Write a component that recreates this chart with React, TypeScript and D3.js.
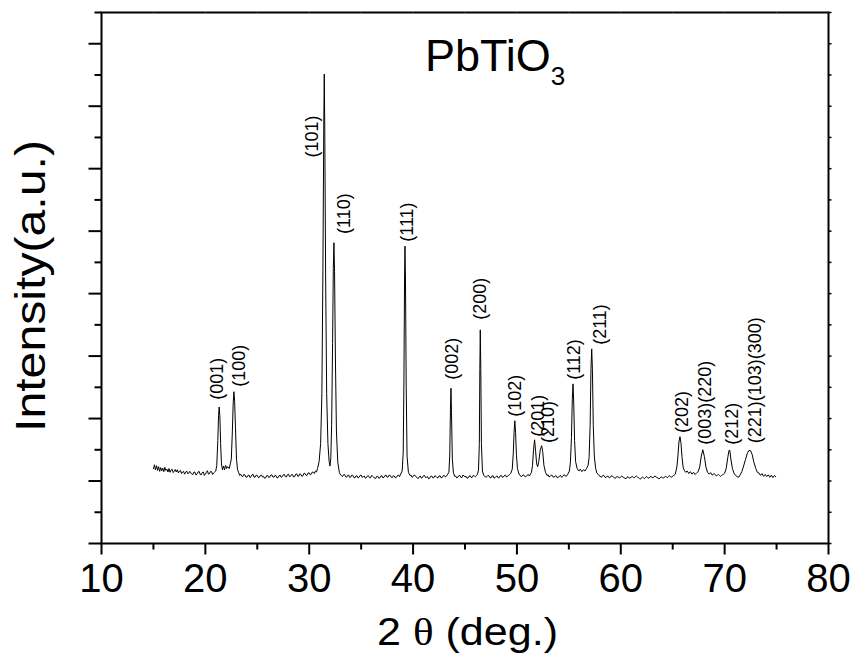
import React from 'react';
import * as d3 from 'd3';

// ---------- data ----------
const xMajorTicks = [10, 20, 30, 40, 50, 60, 70, 80];
const xMinorTicks = [15, 25, 35, 45, 55, 65, 75];
const yDomain = [0, 1700];
const titleMain = 'PbTiO';
const titleSub = '3';
const xTitleA = '2 ';
const xTitleTheta = 'θ';
const xTitleB = ' (deg.)';
const yTitle = 'Intensity(a.u.)';

// diffraction scan: [2θ (deg), intensity (a.u.)]
const scanA: [number, number][] = [
  [15.0, 238], [15.1, 252], [15.2, 236], [15.3, 249], [15.4, 234], [15.5, 246], [15.6, 231], [15.7, 243], [15.8, 233],
  [15.9, 241], [16.0, 230], [16.1, 244], [16.2, 234], [16.3, 238], [16.4, 229], [16.5, 240], [16.6, 228],
  [16.7, 235], [16.8, 238], [16.9, 227], [17.0, 231], [17.1, 237], [17.2, 229], [17.3, 236], [17.4, 226],
  [17.5, 232], [17.6, 234], [17.7, 224], [17.8, 229], [17.9, 231], [18.0, 222], [18.1, 228], [18.2, 232],
  [18.3, 224], [18.4, 225], [18.5, 231], [18.6, 226], [18.7, 222], [18.8, 221], [18.9, 229], [19.0, 228],
  [19.1, 219], [19.2, 223], [19.3, 229], [19.4, 231], [19.5, 221], [19.6, 220], [19.7, 227], [19.8, 229],
  [19.9, 218], [20.0, 222], [20.1, 228], [20.2, 233], [20.3, 222], [20.4, 224], [20.5, 231], [20.6, 230],
  [20.7, 221], [20.8, 226], [20.9, 229], [21.0, 232], [21.1, 250], [21.2, 330], [21.27, 410], [21.33, 437],
  [21.4, 405], [21.47, 320], [21.55, 255], [21.65, 236], [21.75, 248], [21.85, 236], [21.95, 250], [22.05, 240],
  [22.15, 246], [22.3, 240], [22.4, 255], [22.5, 270], [22.6, 360], [22.68, 450], [22.75, 486], [22.82, 455],
  [22.9, 370], [23.0, 270], [23.1, 236], [23.2, 228],
];
const scanB: [number, number][] = [
  [23.3, 218], [23.4, 222], [23.5, 216], [23.6, 214], [23.7, 221], [23.8, 220], [23.9, 213], [24.0, 212],
  [24.1, 218], [24.2, 219], [24.3, 211], [24.4, 214], [24.5, 220], [24.6, 221], [24.7, 212], [24.8, 213],
  [24.9, 219], [25.0, 218], [25.1, 211], [25.2, 212], [25.3, 218], [25.4, 219], [25.5, 213], [25.6, 215],
  [25.7, 209], [25.8, 210], [25.9, 217], [26.0, 218], [26.1, 211], [26.2, 213], [26.3, 219], [26.4, 220],
  [26.5, 213], [26.6, 212], [26.7, 218], [26.8, 217], [26.9, 210], [27.0, 211], [27.1, 217], [27.2, 219],
  [27.3, 212], [27.4, 214], [27.5, 220], [27.6, 221], [27.7, 214], [27.8, 213], [27.9, 220], [28.0, 222],
  [28.1, 214], [28.2, 215], [28.3, 221], [28.4, 220], [28.5, 213], [28.6, 214], [28.7, 222], [28.8, 223],
  [28.9, 215], [29.0, 216], [29.1, 223], [29.2, 221], [29.3, 215], [29.4, 217], [29.5, 225], [29.6, 224],
  [29.7, 218], [29.8, 219], [29.9, 226], [30.0, 226], [30.1, 220], [30.2, 222], [30.3, 229], [30.4, 228],
  [30.5, 224], [30.6, 232], [30.7, 229], [30.8, 240], [30.95, 262], [31.1, 320],
  [31.22, 480], [31.32, 880], [31.4, 1330], [31.45, 1503], [31.5, 1320], [31.58, 860], [31.68, 480],
  [31.8, 320], [31.92, 262], [32.0, 248], [32.08, 275], [32.16, 380], [32.25, 640], [32.32, 880], [32.38, 963],
  [32.44, 870], [32.52, 600], [32.62, 360], [32.75, 260], [32.9, 228], [33.0, 220],
];
const scanC: [number, number][] = [
  [33.1, 218], [33.2, 214], [33.3, 220], [33.4, 221], [33.5, 214], [33.6, 212], [33.7, 218], [33.8, 219],
  [33.9, 211], [34.0, 213], [34.1, 219], [34.2, 218], [34.3, 211], [34.4, 210], [34.5, 216], [34.6, 217],
  [34.7, 210], [34.8, 212], [34.9, 218], [35.0, 219], [35.1, 212], [35.2, 214], [35.3, 216], [35.4, 209],
  [35.5, 211], [35.6, 216], [35.7, 217], [35.8, 211], [35.9, 210], [36.0, 218], [36.1, 216], [36.2, 213],
  [36.3, 209], [36.4, 208], [36.5, 215], [36.6, 215], [36.7, 209], [36.8, 210], [36.9, 216], [37.0, 217],
  [37.1, 210], [37.2, 212], [37.3, 218], [37.4, 219], [37.5, 212], [37.6, 213], [37.7, 219], [37.8, 218],
  [37.9, 212], [38.0, 211], [38.1, 217], [38.2, 216], [38.3, 210], [38.4, 212], [38.5, 218], [38.6, 219],
  [38.7, 214], [38.8, 222], [38.95, 232], [39.05, 290], [39.12, 520],
  [39.18, 850], [39.22, 952], [39.27, 840], [39.34, 500], [39.42, 280], [39.55, 228], [39.7, 218],
  [39.8, 219], [39.9, 212], [40.0, 214], [40.1, 219], [40.2, 218], [40.3, 213], [40.4, 210], [40.5, 208],
  [40.6, 214], [40.7, 216], [40.8, 209], [40.9, 211], [41.0, 217], [41.1, 218], [41.2, 211], [41.3, 212],
  [41.4, 214], [41.5, 207], [41.6, 209], [41.7, 215], [41.8, 216], [41.9, 210], [42.0, 211], [42.1, 217],
  [42.2, 215], [42.3, 211], [42.4, 210], [42.5, 216], [42.6, 217], [42.7, 210], [42.8, 211], [42.9, 217],
  [43.0, 218], [43.1, 213], [43.2, 215], [43.3, 220], [43.45, 228], [43.53, 280], [43.6, 430], [43.65, 497],
  [43.7, 420], [43.78, 270], [43.88, 228], [44.0, 215], [44.1, 216], [44.2, 210], [44.3, 212], [44.4, 217],
  [44.5, 218], [44.6, 212], [44.7, 211], [44.8, 219], [44.9, 217], [45.0, 213], [45.1, 215], [45.2, 209],
  [45.3, 210], [45.4, 216], [45.5, 217], [45.6, 211], [45.7, 212], [45.8, 218], [45.9, 216], [46.0, 214],
  [46.1, 217], [46.2, 222], [46.3, 235], [46.38, 320], [46.43, 560],
  [46.47, 684], [46.52, 560], [46.58, 320], [46.68, 232], [46.8, 218], [46.9, 216],
];
const scanD: [number, number][] = [
  [47.0, 212], [47.1, 214], [47.2, 218], [47.3, 217], [47.4, 211], [47.5, 210], [47.6, 216], [47.7, 217],
  [47.8, 209], [47.9, 211], [48.0, 215], [48.1, 216], [48.2, 210], [48.3, 211], [48.4, 217], [48.5, 218],
  [48.6, 212], [48.7, 213], [48.8, 218], [48.9, 219], [49.0, 213], [49.1, 215], [49.2, 219], [49.3, 221],
  [49.4, 224], [49.55, 238], [49.65, 290], [49.73, 360],
  [49.8, 393], [49.87, 355], [49.95, 285], [50.05, 240], [50.2, 222], [50.3, 219], [50.4, 214], [50.5, 216],
  [50.6, 220], [50.7, 218], [50.8, 213], [50.9, 215], [51.0, 219], [51.1, 221], [51.2, 216], [51.3, 222],
  [51.4, 228], [51.5, 250], [51.6, 300], [51.7, 332], [51.8, 295], [51.9, 255],
  [52.0, 246], [52.1, 262], [52.25, 300], [52.38, 313], [52.48, 295], [52.6, 250], [52.75, 228], [52.9, 218],
  [53.0, 220], [53.1, 213], [53.2, 215], [53.3, 219], [53.4, 218], [53.5, 212], [53.6, 213], [53.7, 217],
  [53.8, 216], [53.9, 210], [54.0, 212], [54.1, 216], [54.2, 218], [54.3, 212], [54.4, 214], [54.5, 219],
  [54.6, 220], [54.7, 215], [54.8, 217], [54.9, 222], [55.05, 232], [55.15, 260], [55.25, 340], [55.33, 460],
  [55.4, 511], [55.47, 450],
  [55.55, 330], [55.65, 262], [55.8, 240], [55.95, 232], [56.1, 238], [56.25, 230], [56.4, 236], [56.55, 232],
  [56.7, 240], [56.85, 250], [56.95, 275], [57.05, 380], [57.13, 560], [57.2, 623], [57.27, 555], [57.35, 380],
  [57.45, 280], [57.58, 240], [57.7, 225], [57.8, 222],
];
const scanE: [number, number][] = [
  [57.9, 218], [58.0, 216], [58.1, 212], [58.2, 214], [58.3, 219], [58.4, 217], [58.5, 211], [58.6, 212],
  [58.7, 216], [58.8, 215], [58.9, 210], [59.0, 212], [59.1, 217], [59.2, 216], [59.3, 212], [59.4, 210],
  [59.5, 209], [59.6, 214], [59.7, 215], [59.8, 211], [59.9, 210], [60.0, 214], [60.1, 216], [60.2, 213],
  [60.3, 211], [60.4, 209], [60.5, 207], [60.6, 212], [60.7, 214], [60.8, 210], [60.9, 209], [61.0, 213],
  [61.1, 215], [61.2, 212], [61.3, 210], [61.4, 214], [61.5, 216], [61.6, 213], [61.7, 211], [61.8, 208],
  [61.9, 206], [62.0, 211], [62.1, 213], [62.2, 210], [62.3, 208], [62.4, 212], [62.5, 214], [62.6, 211],
  [62.7, 209], [62.8, 213], [62.9, 215], [63.0, 212], [63.1, 210], [63.2, 214], [63.3, 216], [63.4, 213],
  [63.5, 211], [63.6, 209], [63.7, 207], [63.8, 211], [63.9, 213], [64.0, 211], [64.1, 209], [64.2, 213],
  [64.3, 215], [64.4, 213], [64.5, 211], [64.6, 215], [64.7, 217], [64.8, 214], [64.9, 212], [65.0, 216],
  [65.1, 218], [65.25, 222], [65.4, 245], [65.5, 280],
  [65.6, 325], [65.7, 342], [65.8, 320], [65.9, 275], [66.0, 245], [66.1, 235], [66.25, 228], [66.4, 232],
  [66.55, 224], [66.7, 230], [66.85, 222], [67.0, 228], [67.15, 221], [67.3, 226], [67.45, 230], [67.6, 245],
  [67.75, 280], [67.9, 300], [68.05, 278], [68.2, 245], [68.35, 228], [68.5, 222], [68.65, 227], [68.8, 219],
  [69.0, 224], [69.1, 220], [69.2, 216], [69.3, 219], [69.4, 221], [69.5, 218], [69.6, 215], [69.7, 218],
  [69.8, 220], [69.9, 222], [70.0, 225], [70.15, 240], [70.3, 275],
  [70.42, 298], [70.5, 298], [70.6, 270], [70.75, 240], [70.9, 225], [71.05, 218], [71.2, 214], [71.35, 212],
  [71.5, 220], [71.65, 230], [71.8, 245], [72.0, 268], [72.2, 290], [72.35, 298], [72.5, 297], [72.65, 285],
  [72.8, 262], [73.0, 240], [73.15, 228], [73.3, 226], [73.45, 218], [73.6, 224], [73.75, 215], [73.9, 221],
  [74.05, 214], [74.2, 220], [74.35, 212], [74.5, 219], [74.65, 211], [74.8, 218], [74.95, 213],
];

// reflection labels
const hklLabels = ['(001)', '(100)', '(101)', '(110)', '(111)', '(002)', '(200)', '(102)', '(201)', '(210)',
  '(112)', '(211)', '(202)', '(003)(220)', '(212)', '(221)(103)(300)'];
const hklTheta = [21.06, 23.23, 30.26, 33.34, 39.36, 43.68, 46.40, 49.77, 52.03, 52.95,
  55.45, 57.96, 65.91, 68.12, 70.69, 72.94];
const hklIntensity = [460, 502, 1236, 991, 966, 524, 716, 406, 342, 322,
  524, 636, 354, 316, 316, 321];

// ---------- chart ----------
const W = 854;
const H = 653;
const L = 101.5, R = 828.5, T = 12.5, B = 543.5;
const FONT = '"Liberation Sans", Arial, Helvetica, sans-serif';

export default function App() {
  const x = d3.scaleLinear().domain([10, 80]).range([L, R]);
  const y = d3.scaleLinear().domain(yDomain).range([B, T]);
  const scan = [...scanA, ...scanB, ...scanC, ...scanD, ...scanE];
  const line = d3.line<[number, number]>().x(d => x(d[0])).y(d => y(d[1]));
  const yTicks = d3.range(yDomain[0], yDomain[1] + 1, 100);

  return (
    <svg width={W} height={H} style={{ position: 'absolute', left: 0, top: 0, background: '#fff' }}
      fontFamily={FONT}>
      <rect x={0} y={0} width={W} height={H} fill="#fff" />
      {/* data */}
      <path d={line(scan) || ''} fill="none" stroke="#000" strokeWidth={1} strokeLinejoin="round" />

      {/* frame */}
      <rect x={L} y={T} width={R - L} height={B - T} fill="none" stroke="#000" strokeWidth={2} />

      {/* bottom ticks */}
      {xMajorTicks.map(t => (
        <line key={'xM' + t} x1={x(t)} x2={x(t)} y1={B} y2={B + 11} stroke="#000" strokeWidth={2} />
      ))}
      {xMinorTicks.map(t => (
        <line key={'xm' + t} x1={x(t)} x2={x(t)} y1={B} y2={B + 6} stroke="#000" strokeWidth={2} />
      ))}
      {/* top ticks (tiny) */}
      {[...xMajorTicks, ...xMinorTicks].map(t => (
        <line key={'xt' + t} x1={x(t)} x2={x(t)} y1={T} y2={T - 1.5} stroke="#777" strokeWidth={1} />
      ))}
      {/* left & right ticks */}
      {yTicks.map(t => {
        const major = t % 200 === 0;
        return (
          <g key={'y' + t}>
            <line x1={L - (major ? 13 : 7)} x2={L} y1={y(t)} y2={y(t)} stroke="#000" strokeWidth={2} />
            <line x1={R} x2={R + 3} y1={y(t)} y2={y(t)} stroke="#000" strokeWidth={1.5} />
          </g>
        );
      })}

      {/* x tick labels */}
      {xMajorTicks.map(t => (
        <text key={'xl' + t} x={x(t)} y={592} fontSize={40} textAnchor="middle" fill="#000">{String(t)}</text>
      ))}

      {/* axis titles */}
      <text x={377} y={645} fontSize={38} textLength={181} lengthAdjust="spacingAndGlyphs" fill="#000">
        {xTitleA}
        <tspan fontFamily='"Liberation Serif", "DejaVu Serif", serif'>{xTitleTheta}</tspan>
        {xTitleB}
      </text>
      <text transform={`translate(45,432) rotate(-90)`} fontSize={43} textLength={292}
        lengthAdjust="spacingAndGlyphs" fill="#000">
        {yTitle}
      </text>

      {/* title */}
      <text x={425} y={71} fontSize={45} fill="#000">
        {titleMain}
        <tspan fontSize={26} dy={14}>{titleSub}</tspan>
      </text>

      {/* reflection labels */}
      {hklLabels.map((s, i) => (
        <text key={'h' + i}
          transform={`translate(${x(hklTheta[i])},${y(hklIntensity[i])}) rotate(-90)`}
          dy="0.35em" fontSize={18} fill="#000">
          {s}
        </text>
      ))}
    </svg>
  );
}
